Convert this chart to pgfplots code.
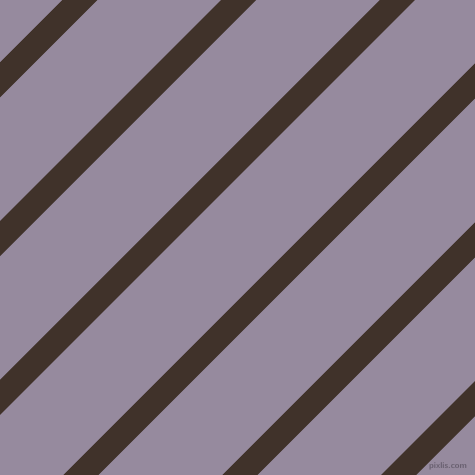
\documentclass[border=0pt]{standalone}
\usepackage{pgfplots}
\pgfplotsset{compat=1.18}
\definecolor{bgc}{RGB}{150,138,158}
\definecolor{stc}{RGB}{64,50,42}
\definecolor{wmc}{RGB}{105,96,112}
\begin{document}
\begin{tikzpicture}
\begin{axis}[
  width=475bp, height=475bp, scale only axis,
  xmin=0, xmax=475, ymin=0, ymax=475,
  axis lines=none, ticks=none, clip=true,
]
\addplot[fill=bgc, draw=none] coordinates {(0,0) (475,0) (475,475) (0,475)} \closedcycle;
\addplot[fill=stc, draw=none] coordinates {(-100,312.5) (600,1012.5) (600,977.5) (-100,277.5)} -- cycle;
\addplot[fill=stc, draw=none] coordinates {(-100,153.8) (600,853.8) (600,818.8) (-100,118.8)} -- cycle;
\addplot[fill=stc, draw=none] coordinates {(-100,-4.9) (600,695.1) (600,660.1) (-100,-39.9)} -- cycle;
\addplot[fill=stc, draw=none] coordinates {(-100,-163.5) (600,536.5) (600,501.5) (-100,-198.5)} -- cycle;
\addplot[fill=stc, draw=none] coordinates {(-100,-322.3) (600,377.7) (600,342.7) (-100,-357.3)} -- cycle;
\addplot[fill=stc, draw=none] coordinates {(-100,-481) (600,219) (600,184) (-100,-516)} -- cycle;
\node[font=\sffamily\bfseries\fontsize{8.5}{8.5}\selectfont, text=wmc, anchor=center] at (axis cs:448,9) {pixlis.com};
\end{axis}
\end{tikzpicture}
\end{document}
